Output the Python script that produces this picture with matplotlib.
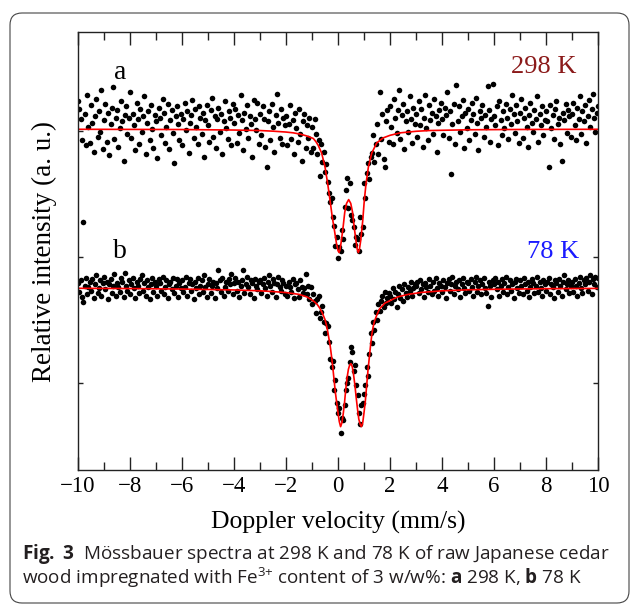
import numpy as np
import matplotlib
matplotlib.use('Agg')
import matplotlib.pyplot as plt
from matplotlib.patches import FancyBboxPatch
from matplotlib.ticker import MultipleLocator

plt.rcParams['font.family'] = ['Liberation Serif', 'DejaVu Serif']
plt.rcParams['mathtext.fontset'] = 'custom'
plt.rcParams['mathtext.rm'] = 'Open Sans'
plt.rcParams['mathtext.it'] = 'Open Sans:italic'
plt.rcParams['mathtext.bf'] = 'Open Sans:bold'

# velocity channels (mm/s), 0.05 mm/s apart
VELOCITY = np.linspace(-10, 10, 401)

# measured relative intensity at 298 K (a.u., baseline = 0)
COUNTS_298 = [
    0.22, 0.16, 0.08, -0.09, -0.74, 0.12, -0.13, 0.27, 0.02, -0.11, 0.19, 0.05, -0.18, 0.10, 0.24, -0.06, 0.14, -0.02, 0.31, -0.16,
    0.07, 0.20, -0.10, 0.13, -0.21, 0.04, 0.17, 0.33, -0.08, 0.09, 0.15, -0.14, 0.01, 0.22, 0.06, -0.25, 0.11, 0.18, -0.04, 0.09,
    0.29, -0.07, 0.12, 0.03, -0.17, 0.21, 0.08, -0.12, 0.16, -0.02, 0.10, 0.26, -0.20, 0.05, 0.14, -0.09, 0.19, 0.00, -0.15, 0.11,
    0.06, -0.23, 0.17, 0.09, -0.05, 0.24, 0.13, -0.11, 0.02, 0.20, -0.16, 0.07, 0.15, -0.03, -0.27, 0.10, 0.18, 0.04, -0.09, 0.12,
    -0.13, 0.08, 0.21, -0.01, 0.14, -0.19, 0.05, 0.11, 0.23, -0.07, 0.16, 0.02, -0.12, 0.18, 0.09, -0.04, 0.13, -0.22, 0.07, 0.19,
    0.03, -0.10, 0.15, 0.25, -0.06, 0.10, -0.15, 0.08, 0.17, -0.02, 0.12, -0.20, 0.06, 0.22, 0.01, -0.08, 0.14, 0.09, -0.13, 0.20,
    0.05, 0.16, -0.11, 0.11, -0.03, 0.27, 0.07, -0.17, 0.13, 0.00, 0.19, -0.07, 0.10, 0.04, -0.22, 0.23, 0.08, -0.01, 0.21, -0.12,
    0.12, -0.05, 0.18, 0.08, -0.14, -0.30, 0.06, 0.14, -0.09, 0.20, 0.02, -0.18, 0.11, 0.28, 0.05, -0.07, 0.16, -0.12, 0.09, 0.03,
    0.10, -0.13, 0.04, 0.19, -0.08, 0.07, -0.20, 0.13, 0.01, -0.10, 0.16, -0.04, -0.25, 0.06, 0.12, -0.15, 0.03, -0.07, 0.09, -0.18,
    0.02, -0.15, 0.08, -0.04, -0.20, -0.09, -0.37, -0.12, -0.26, -0.18, -0.34, -0.28, -0.42, -0.51, -0.58, -0.55, -0.70, -0.77, -0.93, -0.86,
    -1.02, -0.94, -0.97, -0.80, -0.87, -0.62, -0.48, -0.39, -0.63, -0.43, -0.68, -0.72, -0.78, -0.92, -0.86, -0.87, -0.97, -0.70, -0.83, -0.78,
    -0.43, -0.55, -0.35, -0.27, -0.40, -0.22, -0.19, -0.05, -0.26, -0.12, 0.04, -0.20, 0.29, -0.08, 0.12, -0.24, -0.30, 0.06, 0.15, -0.10,
    0.18, 0.02, -0.12, 0.24, 0.09, -0.03, 0.15, 0.31, -0.08, 0.11, 0.20, -0.16, 0.06, 0.14, -0.02, 0.26, 0.08, -0.11, 0.17, 0.04,
    0.12, -0.06, 0.22, 0.03, 0.16, -0.14, 0.09, 0.27, 0.01, -0.09, 0.19, 0.07, 0.13, -0.04, 0.24, 0.10, -0.18, 0.05, 0.15, 0.21,
    0.08, -0.05, 0.17, 0.11, 0.29, -0.07, 0.14, -0.36, 0.04, 0.20, -0.12, 0.35, 0.06, 0.18, -0.02, 0.10, 0.23, -0.15, 0.13, 0.01,
    0.16, -0.09, 0.07, 0.21, 0.12, -0.04, 0.25, 0.05, -0.17, 0.14, 0.09, 0.19, -0.06, 0.11, 0.02, 0.34, 0.15, -0.10, 0.08, 0.36,
    0.10, 0.03, 0.18, -0.13, 0.22, 0.07, -0.05, 0.14, 0.01, 0.20, 0.09, -0.08, 0.16, 0.04, 0.27, 0.12, -0.03, 0.19, 0.06, -0.11,
    0.13, 0.24, -0.07, 0.09, 0.17, 0.02, -0.14, 0.11, 0.21, 0.05, -0.02, 0.15, 0.08, 0.26, -0.10, 0.12, 0.03, 0.18, -0.05, 0.07,
    0.14, 0.06, -0.30, 0.19, 0.01, 0.11, -0.08, 0.16, 0.22, 0.04, 0.09, -0.12, -0.25, 0.13, 0.07, 0.20, -0.03, 0.15, 0.10, -0.06,
    0.12, 0.21, 0.03, -0.09, 0.17, 0.08, 0.26, -0.04, 0.14, 0.06, 0.19, -0.11, 0.10, 0.23, 0.02, 0.16, 0.28, 0.09, -0.02, 0.13,
    0.18,
]

# measured relative intensity at 78 K (a.u., baseline = 0)
COUNTS_78 = [
    0.04, -0.03, 0.06, -0.07, -0.11, 0.02, 0.08, -0.05, 0.01, 0.05, -0.02, 0.07, -0.08, 0.03, 0.10, -0.04, 0.00, 0.06, -0.06, 0.04,
    0.09, -0.01, 0.05, -0.09, 0.03, 0.07, -0.04, 0.02, 0.11, -0.06, 0.04, 0.01, -0.03, 0.08, 0.05, -0.07, 0.12, 0.02, -0.02, 0.06,
    -0.05, 0.03, 0.08, 0.00, -0.08, 0.05, 0.02, -0.04, 0.07, 0.10, -0.02, 0.04, -0.06, 0.06, 0.01, -0.09, 0.03, 0.08, -0.03, 0.05,
    0.02, -0.06, 0.07, 0.04, -0.02, 0.09, -0.05, 0.01, 0.06, -0.08, 0.03, 0.05, -0.01, 0.08, -0.04, 0.02, 0.07, -0.07, 0.04, 0.00,
    0.06, -0.03, 0.01, 0.09, -0.06, 0.04, 0.07, -0.02, 0.03, -0.09, 0.05, 0.00, 0.08, -0.05, 0.02, 0.06, -0.03, 0.10, 0.01, -0.07,
    0.03, 0.07, -0.04, 0.02, 0.05, -0.08, 0.04, 0.00, 0.14, 0.06, -0.03, 0.08, -0.06, 0.01, 0.05, -0.02, 0.07, 0.03, 0.11, -0.05,
    0.04, 0.08, -0.02, 0.05, -0.07, 0.02, 0.06, 0.14, -0.04, 0.03, 0.09, 0.01, -0.05, 0.06, 0.04, -0.08, 0.07, 0.02, -0.01, 0.05,
    0.06, -0.04, 0.03, 0.08, 0.00, -0.06, 0.05, 0.10, 0.02, -0.03, 0.07, 0.04, -0.07, 0.03, 0.09, 0.01, -0.02, 0.06, 0.04, -0.05,
    0.02, -0.06, 0.05, 0.01, -0.03, 0.07, -0.08, 0.03, 0.04, -0.01, -0.07, 0.06, 0.01, -0.04, 0.00, 0.11, -0.05, 0.02, -0.09, 0.01,
    -0.13, -0.05, -0.10, -0.20, -0.09, -0.06, -0.24, -0.19, -0.14, -0.27, -0.36, -0.28, -0.30, -0.43, -0.56, -0.63, -0.58, -0.81, -0.73, -0.91,
    -0.99, -0.95, -1.15, -1.03, -1.05, -0.93, -0.81, -0.75, -0.71, -0.59, -0.47, -0.51, -0.66, -0.61, -0.77, -0.85, -0.99, -1.08, -0.93, -0.91,
    -0.84, -0.77, -0.63, -0.70, -0.52, -0.36, -0.44, -0.27, -0.33, -0.19, -0.25, -0.13, -0.18, -0.10, -0.06, -0.15, -0.03, -0.12, -0.08, -0.04,
    -0.06, -0.12, 0.00, -0.09, -0.03, -0.15, -0.05, 0.02, -0.08, -0.01, -0.10, 0.03, -0.04, -0.07, 0.01, -0.02, 0.05, -0.06, 0.00, 0.03,
    0.02, 0.05, -0.04, 0.06, -0.01, 0.03, -0.07, 0.04, 0.01, -0.03, 0.07, 0.02, -0.05, 0.05, -0.02, 0.08, 0.00, -0.06, 0.04, 0.02,
    -0.03, 0.06, 0.01, -0.08, 0.04, 0.07, -0.02, 0.03, 0.09, -0.05, 0.02, 0.05, -0.01, 0.06, -0.07, 0.03, 0.08, 0.00, -0.04, 0.05,
    0.04, -0.02, 0.07, 0.01, -0.06, 0.05, 0.09, -0.03, 0.02, 0.06, -0.05, 0.03, 0.08, 0.00, -0.04, -0.14, 0.05, 0.02, -0.07, 0.06,
    0.03, 0.08, -0.01, 0.05, -0.06, 0.02, 0.07, -0.03, 0.04, 0.09, -0.05, 0.01, 0.06, -0.02, 0.03, -0.08, 0.05, 0.07, 0.00, -0.04,
    0.06, 0.02, -0.05, 0.08, 0.03, -0.02, 0.05, -0.07, 0.01, 0.07, 0.04, -0.04, 0.02, 0.09, -0.03, 0.05, 0.00, -0.06, 0.06, 0.03,
    -0.02, 0.05, 0.08, -0.05, 0.03, 0.01, -0.08, 0.06, 0.04, -0.03, 0.07, 0.02, -0.06, 0.05, 0.10, -0.01, 0.03, 0.06, -0.04, 0.02,
    0.05, -0.03, 0.07, 0.02, -0.06, 0.04, 0.09, 0.00, -0.04, 0.06, 0.03, 0.08, -0.02, 0.05, 0.10, -0.05, 0.07, 0.03, 0.09, 0.01,
    0.08,
]

# fitted doublet curves
FIT_V_298 = [-10, -8, -6, -4, -3, -2.5, -2, -1.73, -1.46, -1.2, -0.95, -0.85, -0.76, -0.63, -0.5,
             -0.4, -0.31, -0.22, -0.14, -0.05, 0.0, 0.04, 0.08, 0.12, 0.19, 0.26, 0.33, 0.41, 0.49,
             0.56, 0.63, 0.70, 0.74, 0.78, 0.82, 0.87, 0.95, 1.01, 1.08, 1.17, 1.30, 1.49, 1.74,
             2.0, 2.4, 3.0, 3.5, 5.0, 6.5, 8.0, 10.0]
FIT_298 = [-0.002, -0.003, -0.004, -0.008, -0.012, -0.017, -0.024, -0.03, -0.04, -0.055, -0.075,
           -0.10, -0.13, -0.19, -0.30, -0.43, -0.56, -0.70, -0.80, -0.92, -0.965, -0.98, -0.955,
           -0.90, -0.79, -0.66, -0.59, -0.56, -0.59, -0.66, -0.79, -0.90, -0.955, -0.98, -0.96,
           -0.89, -0.73, -0.57, -0.43, -0.30, -0.19, -0.11, -0.07, -0.05, -0.03, -0.018, -0.012,
           -0.006, -0.004, -0.003, -0.002]

FIT_V_78 = [-10, -8, -6, -4, -3, -2.5, -2, -1.5, -1.2, -1.0, -0.9, -0.8, -0.7, -0.6, -0.5, -0.45,
            -0.4, -0.35, -0.3, -0.25, -0.2, -0.15, -0.1, -0.05, 0.0, 0.05, 0.1, 0.15, 0.2, 0.25,
            0.3, 0.35, 0.4, 0.45, 0.5, 0.55, 0.6, 0.65, 0.7, 0.75, 0.8, 0.85, 0.9, 0.95, 1.0,
            1.05, 1.1, 1.15, 1.2, 1.25, 1.3, 1.35, 1.4, 1.5, 1.6, 1.8, 2.0, 2.3, 2.7, 3.2, 4.0,
            5.0, 6.0, 8.0, 10.0]
FIT_78 = [-0.002, -0.004, -0.008, -0.015, -0.022, -0.028, -0.036, -0.05, -0.07, -0.095, -0.11,
          -0.13, -0.16, -0.20, -0.25, -0.29, -0.34, -0.40, -0.46, -0.54, -0.63, -0.73, -0.83,
          -0.91, -0.99, -1.06, -1.10, -1.07, -1.00, -0.91, -0.80, -0.71, -0.645, -0.61, -0.60,
          -0.625, -0.69, -0.77, -0.87, -0.96, -1.04, -1.08, -1.10, -1.07, -0.99, -0.90, -0.78,
          -0.66, -0.56, -0.46, -0.37, -0.31, -0.265, -0.21, -0.165, -0.12, -0.10, -0.07, -0.05,
          -0.035, -0.022, -0.014, -0.010, -0.005, -0.003]

# vertical stacking of the two spectra
OFFSET_298 = 3.016
OFFSET_78 = 1.754

fig = plt.figure(figsize=(6.3, 6.06), dpi=100)
ax = fig.add_axes([78 / 630, 1 - 470 / 606, 520 / 630, 438 / 606])

ax.plot(VELOCITY, OFFSET_298 + np.array(COUNTS_298), ls='none', marker='o',
        ms=4.0, mew=0, color='black')
ax.plot(VELOCITY, OFFSET_78 + np.array(COUNTS_78), ls='none', marker='o',
        ms=4.0, mew=0, color='black')
ax.plot(FIT_V_298, OFFSET_298 + np.array(FIT_298), color='red', lw=1.2)
ax.plot(FIT_V_78, OFFSET_78 + np.array(FIT_78), color='red', lw=1.2)

ax.set_xlim(-10, 10)
ax.set_ylim(0.31, 3.786)
ax.set_xticks(np.arange(-10, 11, 2))
ax.xaxis.set_minor_locator(MultipleLocator(1))
ax.set_yticks([1, 2, 3])
ax.tick_params(which='both', direction='in', top=True, right=True,
               length=5.5, width=1.0, color='#222222', labelsize=16.5, pad=4)
ax.tick_params(axis='y', which='major', length=3.5, labelleft=False)
for t in ax.xaxis.get_major_ticks():
    if abs(t.get_loc()) < 1e-9:
        t.tick1line.set_markersize(9.5)
        t.tick2line.set_markersize(9.5)
for s in ax.spines.values():
    s.set_linewidth(1.0)
    s.set_color('#222222')

ax.set_xlabel('Doppler velocity (mm/s)', fontsize=18.5)
ax.xaxis.set_label_coords(0.5, -0.093)
ax.set_ylabel('Relative intensity (a. u.)', fontsize=19.5)
ax.yaxis.set_label_coords(-0.04, 0.5)

ax.text(0.081, 0.893, 'a', transform=ax.transAxes, fontsize=20, ha='center', va='baseline')
ax.text(0.081, 0.484, 'b', transform=ax.transAxes, fontsize=20, ha='center', va='baseline')
ax.text(0.896, 0.906, '298 K', transform=ax.transAxes, fontsize=19, ha='center',
        va='baseline', color='#8b1a1a')
ax.text(0.913, 0.484, '78 K', transform=ax.transAxes, fontsize=19, ha='center',
        va='baseline', color='#1a1aff')

# caption and rounded frame
cap_kw = dict(fontsize=13.6, family='Open Sans', color='#231f20', ha='left', va='baseline')
fig.text(22 / 630, 1 - 559 / 606,
         r'$\mathbf{Fig.\ 3}$  Mössbauer spectra at 298 K and 78 K of raw Japanese cedar', **cap_kw)
fig.text(22 / 630, 1 - 584 / 606,
         r'wood impregnated with Fe$^{3{+}}$ content of 3 w/w%: $\mathbf{a}$ 298 K, $\mathbf{b}$ 78 K',
         **cap_kw)

frame = FancyBboxPatch((0.10, 0.03), 6.19, 5.90, boxstyle='round,pad=0,rounding_size=0.12',
                       transform=fig.dpi_scale_trans, fill=False, ec='#444444', lw=0.8)
fig.patches.append(frame)

fig.savefig('out.png', dpi=100)
